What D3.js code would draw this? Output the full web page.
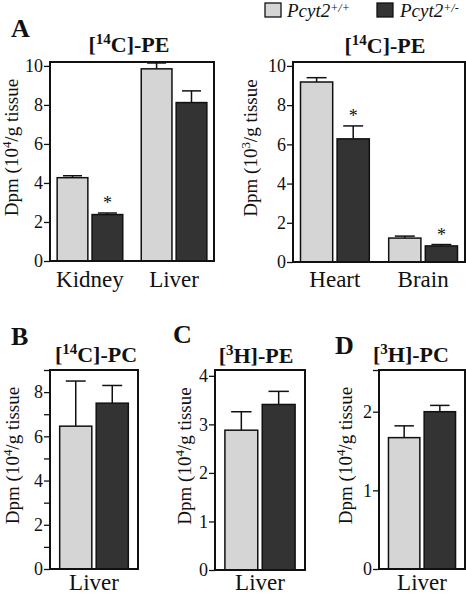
<!DOCTYPE html>
<html><head><meta charset="utf-8">
<script src="https://cdn.jsdelivr.net/npm/d3@7"></script>
<style>
html,body{margin:0;padding:0;background:#fff;}
svg text{font-family:"Liberation Serif","Times New Roman",serif;fill:#111;}
</style></head>
<body>
<svg id="chart" width="466" height="594"></svg>
<script>
// ---------- data ----------
const groups = ["+/+", "+/-"];          // Pcyt2 genotypes
// Panel A (left): [14C]-PE, 10^4/g tissue
const aLeftCats = ["Kidney", "Liver"];
const aLeftWT = [4.27, 9.85];
const aLeftWTErr = [0.1, 0.3];
const aLeftHet = [2.38, 8.12];
const aLeftHetErr = [0.08, 0.6];
// Panel A (right): [14C]-PE, 10^3/g tissue
const aRightCats = ["Heart", "Brain"];
const aRightWT = [9.18, 1.22];
const aRightWTErr = [0.22, 0.1];
const aRightHet = [6.28, 0.82];
const aRightHetErr = [0.66, 0.07];
// Panel B: [14C]-PC
const bCats = ["Liver"];
const bWT = [6.46]; const bWTErr = [2.04];
const bHet = [7.5]; const bHetErr = [0.8];
// Panel C: [3H]-PE
const cCats = ["Liver"];
const cWT = [2.88]; const cWTErr = [0.38];
const cHet = [3.41]; const cHetErr = [0.27];
// Panel D: [3H]-PC
const dCats = ["Liver"];
const dWT = [1.67]; const dWTErr = [0.15];
const dHet = [2.0]; const dHetErr = [0.08];

const colors = ["#d5d5d5", "#333333"];
const svg = d3.select("#chart");

function supText(sel, parts, baseSize, supSize, shift) {
  const sh = shift || baseSize * 0.38;
  parts.forEach(([t, s], i) => {
    const prevSup = i > 0 && parts[i-1][1];
    const ts = sel.append("tspan").text(t).style("font-size", (s ? supSize : baseSize) + "px");
    if (s) ts.attr("dy", -sh);
    else if (prevSup) ts.attr("dy", sh);
  });
}

function panel(o) {
  const g = svg.append("g");
  const y = d3.scaleLinear().domain([0, o.ymax]).range([o.y1, o.y0]);
  const x0 = d3.scaleBand().domain(o.cats).range([o.x0, o.x1]).paddingInner(0.22).paddingOuter(0.085);
  const x1 = d3.scaleBand().domain(groups).range([0, x0.bandwidth()]).paddingInner(0.12);
  if (o.minor) {
    g.append("g").attr("transform", `translate(${o.x0},0)`)
      .call(d3.axisLeft(y).tickValues(o.minor).tickSize(6).tickFormat(""))
      .call(a => a.select(".domain").remove())
      .call(a => a.selectAll("line").attr("stroke", "#111").attr("stroke-width", 1.3));
  }
  const ax = g.append("g").attr("transform", `translate(${o.x0},0)`)
    .call(d3.axisLeft(y).tickValues(o.ticks).tickSize(6).tickPadding(1).tickFormat(d3.format("d")));
  ax.select(".domain").remove();
  ax.selectAll("line").attr("stroke", "#111").attr("stroke-width", 1.3);
  ax.selectAll("text").style("font-size", "18px").style("font-family", '"Liberation Serif",serif').attr("fill", "#111");
  o.cats.forEach((c, i) => {
    const vals = [[o.wt[i], o.wtErr[i]], [o.het[i], o.hetErr[i]]];
    vals.forEach(([v, e], j) => {
      const bx = x0(c) + x1(groups[j]);
      const bw = x1.bandwidth();
      const cx = bx + bw / 2;
      const cap = bw * 0.62;
      g.append("line").attr("x1", cx).attr("x2", cx).attr("y1", y(v)).attr("y2", y(v + e))
        .attr("stroke", "#111").attr("stroke-width", 1.5);
      g.append("line").attr("x1", cx - cap/2).attr("x2", cx + cap/2).attr("y1", y(v + e)).attr("y2", y(v + e))
        .attr("stroke", "#111").attr("stroke-width", 1.5);
      g.append("rect").attr("x", bx).attr("y", y(v)).attr("width", bw).attr("height", y(0) - y(v))
        .attr("fill", colors[j]).attr("stroke", "#111").attr("stroke-width", 1.5);
      if (o.sig && o.sig[i] && j === 1) {
        g.append("text").attr("x", cx).attr("y", y(v + e) - 4).attr("text-anchor", "middle")
          .style("font-size", "18px").text("*");
      }
    });
    g.append("text").attr("x", x0(c) + x0.bandwidth() / 2).attr("y", o.labelY)
      .attr("text-anchor", "middle").style("font-size", "23px").text(c);
  });
  g.append("rect").attr("x", o.x0).attr("y", o.y0).attr("width", o.x1 - o.x0).attr("height", o.y1 - o.y0)
    .attr("fill", "none").attr("stroke", "#111").attr("stroke-width", 2);
  const t = g.append("text").attr("x", o.titleX).attr("y", o.titleY).attr("text-anchor", "middle")
    .style("font-weight", "bold");
  supText(t, o.title, 22, 15);
  const yl = g.append("text").attr("transform", `translate(${o.ylabX},${(o.y0 + o.y1) / 2 - 14}) rotate(-90)`)
    .attr("text-anchor", "middle");
  supText(yl, [["Dpm (10", false], [o.exp, true], ["/g tissue", false]], 19, 13);
  if (o.letter) {
    g.append("text").attr("x", o.letterX).attr("y", o.letterY).style("font-size", "26px")
      .style("font-weight", "bold").text(o.letter);
  }
}

panel({cats: aLeftCats, wt: aLeftWT, wtErr: aLeftWTErr, het: aLeftHet, hetErr: aLeftHetErr,
  sig: [true, false], x0: 50, x1: 214, y0: 62, y1: 261, ymax: 10.2, ticks: [0,2,4,6,8,10],
  labelY: 287, title: [["[", false], ["14", true], ["C]-PE", false]], titleX: 129, titleY: 52,
  ylabX: 18, exp: "4", letter: "A", letterX: 11, letterY: 37});

panel({cats: aRightCats, wt: aRightWT, wtErr: aRightWTErr, het: aRightHet, hetErr: aRightHetErr,
  sig: [true, true], x0: 293, x1: 465, y0: 62, y1: 262, ymax: 10.2, ticks: [0,2,4,6,8,10],
  labelY: 287, title: [["[", false], ["14", true], ["C]-PE", false]], titleX: 385, titleY: 53,
  ylabX: 257, exp: "3"});

panel({cats: bCats, wt: bWT, wtErr: bWTErr, het: bHet, hetErr: bHetErr,
  x0: 50, x1: 138, y0: 370, y1: 569, ymax: 9, ticks: [0,2,4,6,8], minor: [1,3,5,7,9],
  labelY: 590, title: [["[", false], ["14", true], ["C]-PC", false]], titleX: 96, titleY: 362,
  ylabX: 19, exp: "4", letter: "B", letterX: 11, letterY: 345});

panel({cats: cCats, wt: cWT, wtErr: cWTErr, het: cHet, hetErr: cHetErr,
  x0: 215, x1: 305, y0: 370, y1: 570, ymax: 4.12, ticks: [0,1,2,3,4],
  labelY: 590, title: [["[", false], ["3", true], ["H]-PE", false]], titleX: 256, titleY: 363,
  ylabX: 191, exp: "4", letter: "C", letterX: 173, letterY: 343});

panel({cats: dCats, wt: dWT, wtErr: dWTErr, het: dHet, hetErr: dHetErr,
  x0: 379, x1: 465, y0: 370, y1: 569, ymax: 2.53, ticks: [0,1,2], minor: [2.53],
  labelY: 590, title: [["[", false], ["3", true], ["H]-PC", false]], titleX: 411, titleY: 362,
  ylabX: 352, exp: "4", letter: "D", letterX: 335, letterY: 354});

const legend = svg.append("g");
[["+/+", 265, 287], ["+/-", 377, 400]].forEach(([s, sx, tx], i) => {
  legend.append("rect").attr("x", sx).attr("y", 3).attr("width", 16).attr("height", 14)
    .attr("fill", colors[i]).attr("stroke", "#111").attr("stroke-width", 1.3);
  const t = legend.append("text").attr("x", tx).attr("y", 17).style("font-style", "italic");
  supText(t, [["Pcyt2", false], [s, true]], 19, 12, 5.5);
});
</script>
</body></html>
